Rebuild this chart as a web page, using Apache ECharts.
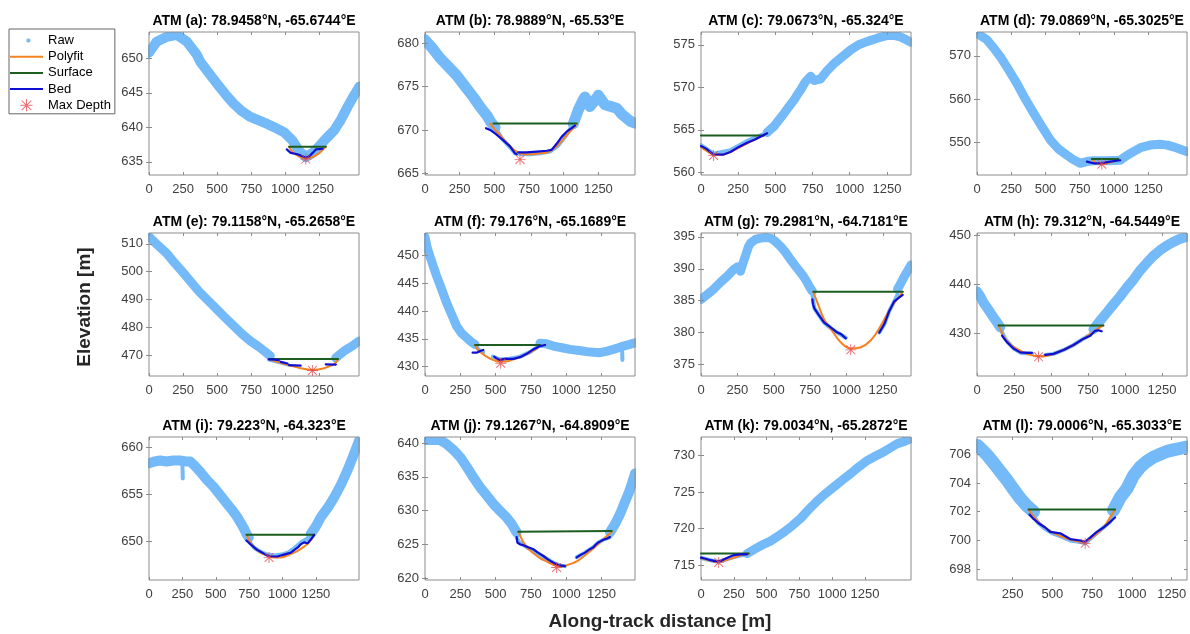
<!DOCTYPE html>
<html>
<head>
<meta charset="utf-8">
<title>ATM along-track elevation profiles</title>
<script src="https://cdn.jsdelivr.net/npm/echarts@6.0.0/dist/echarts.min.js"></script>
<style>
  html, body { margin: 0; padding: 0; background: #fff; }
  #chart { width: 1190px; height: 634px; }
</style>
</head>
<body>
<div id="chart"></div>
<script>
// ---------- data ----------
const titles = [
  'ATM (a): 78.9458°N, -65.6744°E', 'ATM (b): 78.9889°N, -65.53°E',
  'ATM (c): 79.0673°N, -65.324°E', 'ATM (d): 79.0869°N, -65.3025°E',
  'ATM (e): 79.1158°N, -65.2658°E', 'ATM (f): 79.176°N, -65.1689°E',
  'ATM (g): 79.2981°N, -64.7181°E', 'ATM (h): 79.312°N, -64.5449°E',
  'ATM (i): 79.223°N, -64.323°E', 'ATM (j): 79.1267°N, -64.8909°E',
  'ATM (k): 79.0034°N, -65.2872°E', 'ATM (l): 79.0006°N, -65.3033°E'
]
const xMin = [0, 0, 0, 0, 0, 0, 0, 0, 0, 0, 0, 26]
const xMax = [1540, 1514, 1412, 1533, 1541, 1487, 1443, 1419, 1573, 1487, 1600, 1346]
const yMin = [633.1, 664.8, 559.7, 542.5, 462.5, 428.3, 373.2, 421.3, 645.9, 619.75, 713.0, 697.25]
const yMax = [653.8, 681.3, 576.5, 575.5, 513.9, 454.1, 395.6, 450.4, 661.1, 640.9, 732.5, 707.2]
const xTicks = [0, 250, 500, 750, 1000, 1250]
const xTicksL = [250, 500, 750, 1000, 1250]
const yTicks = [
  [635, 640, 645, 650], [665, 670, 675, 680], [560, 565, 570, 575], [550, 560, 570],
  [470, 480, 490, 500, 510], [430, 435, 440, 445, 450], [375, 380, 385, 390, 395], [430, 440, 450],
  [650, 655, 660], [620, 625, 630, 635, 640], [715, 720, 725, 730], [698, 700, 702, 704, 706]
]

// (a)
const bandA = [[[0,650.8],[56,652.4],[130,653.1],[204,653.4],[278,652.4],[351,650.5],[376,649.5],[437,647.9],[499,646.3],[560,644.8],[622,643.4],[683,642.3],[744,641.5],[805,641.0],[867,640.5],[930,639.9],[990,639.3],[1052,638.1],[1100,636.6],[1150,635.7],[1200,636.3],[1250,637.3],[1285,638.1],[1320,638.8],[1359,639.6],[1410,641.2],[1457,643.0],[1500,644.5],[1543,645.9]]]
const troughA = []
const polyA = [[1027,637.2],[1060,636.3],[1100,635.8],[1150,635.5],[1200,635.7],[1250,636.3],[1297,637.2]]
const surfA = [[1027,637.2],[1297,637.2]]
const bedA = [[[1010,636.8],[1039,636.3],[1088,636.1],[1125,635.8],[1150,635.6],[1174,635.8],[1200,636.3],[1224,636.8],[1273,636.9]]]
const maxA = [1150, 635.4]

// (b)
const bandB = [
  [[0,680.4],[50,679.5],[108,678.3],[168,677.3],[228,676.3],[290,675.0],[348,673.8],[400,672.6],[445,671.7],[475,670.9],[505,670.3]],
  [[1069,670.7],[1105,672.3],[1135,673.3],[1153,673.8],[1170,673.4],[1189,672.7],[1220,673.3],[1250,674.0],[1275,673.4],[1298,672.9],[1340,672.7],[1382,672.5],[1420,671.8],[1442,671.5],[1480,671.0],[1514,670.8]]
]
const troughB = [[[505,670.3],[560,668.9],[613,668.0],[650,667.3],[700,667.2],[757,667.2],[830,667.3],[900,667.5],[960,668.2],[1010,669.2],[1069,670.7]]]
const polyB = [[469,670.75],[505,670.0],[541,669.4],[577,668.7],[613,668.1],[650,667.6],[685,667.3],[733,667.2],[781,667.2],[829,667.3],[877,667.4],[913,667.7],[949,668.1],[985,668.7],[1021,669.4],[1057,670.0],[1093,670.7]]
const surfB = [[493,670.75],[1093,670.75]]
const bedB = [
  [[440,670.2],[469,670.0],[505,669.6],[565,668.8],[613,668.1],[649,667.3],[661,667.2]],
  [[673,667.4],[733,667.4],[805,667.5],[877,667.6],[913,667.7],[949,668.4],[985,669.2],[1021,669.8],[1057,670.2],[1081,670.5]]
]
const maxB = [685, 666.6]

// (c)
const bandC = [[[445,564.7],[470,565.1],[490,565.4],[525,566.2],[557,566.9],[590,567.7],[625,568.5],[650,569.2],[670,569.7],[700,570.6],[737,571.3],[760,570.8],[785,570.9],[805,571.0],[850,572.0],[895,572.8],[950,573.6],[1007,574.4],[1060,575.0],[1120,575.4],[1190,575.8],[1255,576.1],[1300,576.1],[1344,575.9],[1380,575.6],[1412,575.3]]]
const troughC = [[[0,563.2],[85,562.2],[198,562.6],[310,563.7],[422,564.5],[455,565.0]]]
const polyC = [[0,563.0],[40,562.5],[85,562.1],[140,562.1],[198,562.4],[254,562.9],[310,563.4],[366,563.9],[422,564.35]]
const surfC = [[0,564.35],[422,564.35]]
const bedC = [[[0,563.1],[34,562.8],[85,562.1],[152,562.1],[198,562.4],[254,563.0],[310,563.5],[366,563.9],[445,564.6]]]
const maxC = [85, 562.0]

// (d)
const bandD = [[[0,575.2],[73,573.7],[120,571.9],[170,569.8],[230,566.8],[292,563.6],[350,560.2],[413,556.8],[475,553.6],[535,550.6],[595,548.5],[656,547.1],[700,546.1],[753,545.2],[800,545.6],[850,545.8],[950,545.8],[1045,545.9],[1090,546.9],[1142,547.9],[1200,548.9],[1263,549.4],[1336,549.6],[1390,549.4],[1433,549.0],[1480,548.5],[1531,547.9]]]
const troughD = []
const polyD = [[838,546.2],[870,545.3],[911,545.0],[960,545.3],[1000,545.7],[1032,546.2]]
const surfD = [[838,546.2],[1032,546.2]]
const bedD = [[[802,545.6],[850,545.2],[899,545.2],[972,545.6],[1045,545.9]]]
const maxD = [911, 545.0]

// (e)
const bandE = [
  [[0,512.6],[60,509.7],[130,506.6],[190,503.0],[253,499.5],[315,495.9],[376,492.4],[438,489.4],[499,486.4],[560,483.4],[622,480.5],[683,477.6],[744,475.1],[805,473.0],[850,471.3],[890,469.7]],
  [[1370,469.0],[1400,470.2],[1432,471.5],[1490,473.2],[1543,475.1]]
]
const troughE = [[[880,468.4],[960,467.4],[1020,466.6]]]
const polyE = [[879,468.6],[960,467.3],[1039,466.2],[1113,465.3],[1199,464.7],[1285,465.3],[1359,466.8],[1388,468.6]]
const surfE = [[879,468.6],[1388,468.6]]
const bedE = [
  [[879,468.5],[920,468.4],[953,468.2]],
  [[966,467.6],[1015,467.0]],
  [[1027,466.4],[1070,466.3],[1113,466.2]],
  [[1297,466.7],[1371,466.6]]
]
const maxE = [1199, 464.5]

// (f)
const bandF = [
  [[0,453.4],[15,451.5],[35,449.9],[60,448.0],[83,446.3],[120,443.8],[153,441.5],[190,439.3],[224,437.3],[260,436.0],[295,435.2],[325,434.5],[354,434.0]],
  [[814,434.2],[860,434.1],[909,433.7],[970,433.4],[1027,433.1],[1090,432.9],[1145,432.7],[1190,432.6],[1239,432.5],[1290,432.8],[1333,433.1],[1370,433.4],[1404,433.7],[1450,434.0],[1487,434.3]]
]
const troughF = [
  [[354,434.0],[380,433.0],[413,432.6]],
  [[480,431.8],[530,431.3],[600,431.4],[673,431.8],[743,432.6],[790,433.4],[814,434.0]],
  [[1395,433.6],[1398,431.2]]
]
const polyF = [[354,433.9],[380,432.9],[413,432.2],[442,431.7],[472,431.3],[502,431.0],[531,430.9],[566,430.9],[602,431.1],[640,431.4],[673,431.7],[710,432.1],[743,432.5],[780,433.1],[814,433.7]]
const surfF = [[354,433.9],[814,433.9]]
const bedF = [
  [[337,432.5],[366,432.5],[390,432.8],[413,433.0]],
  [[490,431.8],[510,431.4],[531,431.2],[566,431.4],[600,431.4],[625,431.4],[673,431.7],[720,432.3],[767,433.1],[814,433.7],[850,433.9]]
]
const maxF = [536, 430.6]

// (g)
const bandG = [
  [[0,385.2],[45,386.0],[87,386.8],[135,387.9],[179,388.8],[225,389.9],[250,390.3],[271,389.6],[290,391.0],[305,392.0],[325,393.4],[340,394.0],[375,394.6],[409,394.8],[445,394.9],[478,394.8],[510,394.3],[547,393.5],[580,392.6],[616,391.4],[650,390.4],[684,389.4],[710,388.6],[731,387.8],[750,387.0],[765,386.5]],
  [[1351,386.8],[1374,387.8],[1397,388.8],[1420,389.7],[1443,390.6]]
]
const troughG = [
  [[765,386.0],[779,383.8],[811,382.7],[845,381.6],[891,380.7],[937,380.0],[995,379.2]],
  [[1225,380.0],[1259,381.3],[1294,383.4],[1328,384.9],[1351,386.0]]
]
const polyG = [[772,386.4],[800,384.7],[845,382.1],[891,380.6],[960,378.5],[1029,377.5],[1098,377.7],[1167,378.8],[1236,381.1],[1305,383.9],[1374,386.0],[1386,386.4]]
const surfG = [[772,386.4],[1386,386.4]]
const bedG = [
  [[765,385.2],[770,384.4],[779,383.8],[811,382.7],[845,381.6],[891,380.8],[937,380.0],[960,379.8],[995,379.1]],
  [[1225,380.0],[1259,381.3],[1294,383.4],[1328,384.9],[1363,385.5],[1386,385.9]]
]
const maxG = [1029, 377.3]

// (h)
const bandH = [
  [[0,438.5],[20,437.6],[45,436.2],[68,435.2],[90,434.2],[112,433.2],[135,432.2],[157,431.2]],
  [[787,430.8],[830,432.5],[877,434.2],[920,435.8],[967,437.5],[1010,439.2],[1057,440.9],[1100,442.7],[1147,444.3],[1190,445.7],[1237,446.9],[1280,447.8],[1327,448.6],[1370,449.2],[1419,449.6]]
]
const troughH = [
  [[157,431.0],[191,428.8],[247,426.9],[300,426.0],[371,425.9]],
  [[461,425.6],[517,425.8],[585,426.6],[652,427.6],[720,428.9],[765,429.7],[787,430.5]]
]
const polyH = [[146,431.6],[170,430.0],[191,428.8],[230,427.6],[270,426.8],[315,426.1],[360,425.6],[395,425.4],[427,425.3],[470,425.4],[517,425.8],[560,426.3],[607,426.9],[650,427.6],[697,428.4],[740,429.3],[787,430.3],[820,431.0],[854,431.6]]
const surfH = [[146,431.6],[854,431.6]]
const bedH = [
  [[169,429.5],[202,428.2],[247,426.9],[292,426.1],[337,426.0],[371,426.0]],
  [[461,425.6],[517,425.8],[585,426.6],[652,427.6],[720,428.9],[765,429.5],[798,430.5],[820,430.6],[843,430.4]]
]
const maxH = [416, 425.2]

// (i)
const bandI = [
  [[0,658.3],[40,658.5],[83,658.6],[130,658.5],[183,658.6],[230,658.6],[280,658.5],[309,658.5],[345,658.0],[384,657.4],[430,656.6],[484,655.8],[535,654.9],[585,654.0],[625,653.3],[660,652.6],[690,651.9],[710,651.4],[730,650.8],[747,650.4]],
  [[1212,650.8],[1250,651.6],[1288,652.6],[1340,653.6],[1388,654.7],[1440,656.1],[1488,657.6],[1530,659.1],[1576,660.8]]
]
const troughI = [
  [[747,650.0],[790,649.3],[835,648.9],[886,648.6],[940,648.5],[990,648.6],[1040,648.8],[1090,649.3],[1137,649.9],[1175,650.2],[1212,650.6]],
  [[250,658.4],[253,656.7]]
]
const polyI = [[730,650.7],[760,649.9],[785,649.4],[836,648.8],[886,648.5],[936,648.3],[986,648.3],[1037,648.5],[1087,648.8],[1137,649.2],[1175,649.6],[1200,649.9],[1220,650.3],[1237,650.7]]
const surfI = [[730,650.7],[1237,650.7]]
const bedI = [[[730,650.1],[760,649.7],[785,649.4],[810,649.1],[836,648.9],[861,648.7],[886,648.5],[911,648.4],[936,648.4],[961,648.4],[986,648.5],[1012,648.6],[1037,648.7],[1062,648.8],[1080,649.0],[1099,649.2],[1118,649.4],[1137,649.7],[1150,649.8],[1162,649.9],[1175,649.8],[1187,649.8],[1200,650.0],[1212,650.2],[1237,650.7]]]
const maxI = [899, 648.3]

// (j)
const bandJ = [
  [[0,640.45],[50,640.5],[106,640.45],[150,639.9],[201,639.0],[250,637.9],[295,636.5],[340,635.0],[389,633.5],[435,632.3],[484,631.0],[530,630.0],[578,629.0],[615,628.0],[649,626.8]],
  [[1310,626.8],[1345,628.0],[1381,629.5],[1410,631.0],[1440,632.5],[1465,634.0],[1487,635.5]]
]
const troughJ = [
  [[649,626.0],[670,625.3],[720,624.6],[767,624.1],[838,623.2],[909,622.3],[956,621.9],[991,621.8]],
  [[1074,623.1],[1133,623.8],[1192,624.6],[1227,625.3],[1263,625.7],[1310,626.1]]
]
const polyJ = [[661,626.9],[690,625.6],[720,624.6],[767,623.7],[814,623.0],[860,622.5],[909,622.0],[945,621.8],[979,621.8],[1027,622.1],[1074,622.5],[1120,623.2],[1168,624.0],[1205,624.7],[1239,625.3],[1280,626.1],[1322,626.9]]
const surfJ = [[661,626.9],[1322,627.0]]
const bedJ = [
  [[649,626.1],[654,625.3],[675,625.0],[696,624.9],[730,624.6],[767,624.3],[800,623.8],[838,623.3],[870,622.8],[909,622.3],[940,622.0],[956,621.9],[991,621.8]],
  [[1074,623.1],[1105,623.5],[1133,623.8],[1160,624.2],[1192,624.6],[1210,625.0],[1227,625.3],[1245,625.5],[1263,625.7],[1290,625.9],[1310,626.1]]
]
const maxJ = [932, 621.6]

// (k)
const bandK = [[[351,716.6],[390,717.0],[428,717.4],[480,717.9],[529,718.3],[580,718.9],[631,719.5],[695,720.4],[759,721.4],[820,722.6],[886,723.8],[950,724.8],[1013,725.7],[1075,726.6],[1140,727.5],[1200,728.4],[1268,729.3],[1330,729.9],[1395,730.5],[1450,731.1],[1497,731.6],[1550,731.9],[1599,732.3]]]
const troughK = [[[0,716.0],[50,715.8],[96,715.6],[135,715.5],[173,715.7],[224,716.0],[290,716.3],[351,716.5]]]
const polyK = [[0,716.0],[60,715.7],[122,715.5],[190,715.7],[260,716.1],[330,716.5],[364,716.6]]
const surfK = [[0,716.6],[364,716.6]]
const bedK = [[[0,716.05],[35,715.9],[71,715.7],[100,715.6],[122,715.5],[150,715.6],[173,715.8],[210,716.1],[250,716.4],[300,716.5],[351,716.5]]]
const maxK = [135, 715.4]

// (l)
const bandL = [
  [[30,706.6],[89,705.96],[130,705.4],[172,704.8],[215,704.2],[256,703.55],[300,702.9],[340,702.4],[381,702.0]],
  [[884,702.1],[926,703.0],[968,703.6],[1009,704.5],[1051,705.1],[1093,705.5],[1135,705.8],[1177,706.0],[1220,706.2],[1260,706.3],[1300,706.4],[1344,706.5]]
]
const troughL = [[[381,701.7],[413,701.2],[455,700.8],[500,700.5],[549,700.3],[612,700.0],[675,699.9],[706,699.8],[737,700.1],[779,700.5],[821,700.9],[863,701.3],[884,701.7]]]
const polyL = [[350,702.15],[402,701.4],[465,700.8],[549,700.3],[633,700.0],[696,699.9],[758,700.3],[821,700.9],[873,701.8],[894,702.15]]
const surfL = [[350,702.15],[894,702.15]]
const bedL = [[[356,701.8],[381,701.5],[413,701.2],[455,700.9],[486,700.6],[549,700.5],[612,700.1],[675,700.0],[706,699.9],[737,700.2],[779,700.6],[821,700.9],[863,701.3],[894,701.6]]]
const maxL = [706, 699.8]

const panels = [
  { band: bandA, trough: troughA, poly: polyA, surf: surfA, bed: bedA, maxd: maxA },
  { band: bandB, trough: troughB, poly: polyB, surf: surfB, bed: bedB, maxd: maxB },
  { band: bandC, trough: troughC, poly: polyC, surf: surfC, bed: bedC, maxd: maxC },
  { band: bandD, trough: troughD, poly: polyD, surf: surfD, bed: bedD, maxd: maxD },
  { band: bandE, trough: troughE, poly: polyE, surf: surfE, bed: bedE, maxd: maxE },
  { band: bandF, trough: troughF, poly: polyF, surf: surfF, bed: bedF, maxd: maxF },
  { band: bandG, trough: troughG, poly: polyG, surf: surfG, bed: bedG, maxd: maxG },
  { band: bandH, trough: troughH, poly: polyH, surf: surfH, bed: bedH, maxd: maxH },
  { band: bandI, trough: troughI, poly: polyI, surf: surfI, bed: bedI, maxd: maxI },
  { band: bandJ, trough: troughJ, poly: polyJ, surf: surfJ, bed: bedJ, maxd: maxJ },
  { band: bandK, trough: troughK, poly: polyK, surf: surfK, bed: bedK, maxd: maxK },
  { band: bandL, trough: troughL, poly: polyL, surf: surfL, bed: bedL, maxd: maxL }
]

// ---------- layout / style ----------
const FONT = '"Liberation Sans", Arial, Helvetica, sans-serif'
const C_RAW = '#74b9f8'
const C_POLY = '#f5821f'
const C_SURF = '#1b5e20'
const C_BED = '#0f0fd2'
const C_MAX = '#e5474f'
const C_AXIS = '#8c8c8c'

const colLeft = [149, 425, 701, 977]
const rowTop = [32, 233, 437]
const plotW = 210
const plotH = 143
const bandWidth = [10, 11, 9, 9, 9, 9, 9, 10, 10, 10, 9, 13]
const troughWidth = 4

// MATLAB-like '*' marker
const STAR = 'path://M9.2,0L10.8,0L10.8,20L9.2,20Z M0,9.2L20,9.2L20,10.8L0,10.8Z M1.4,2.6L2.6,1.4L18.6,17.4L17.4,18.6Z M17.4,1.4L18.6,2.6L2.6,18.6L1.4,17.4Z'
const DOT = 'path://M0,0L0.01,0Z M33,12L33.01,12Z M16.4,5.1L17.6,3.9L19.2,3.9L20.4,5.1L20.4,6.9L19.2,8.1L17.6,8.1L16.4,6.9Z'
const BAR = 'path://M0,0L33,0L33,2L0,2Z'

const lineSeries = (name, data, k, color, width, z, smooth) => ({
  name,
  type: 'line',
  xAxisIndex: 2 * k,
  yAxisIndex: 2 * k,
  data,
  symbol: 'none',
  smooth,
  z,
  silent: true,
  lineStyle: { color, width, cap: 'round', join: 'round' },
  itemStyle: { color }
})

// raw points drawn as thick polylines; width is set per item so the grid
// clip is not widened by the stroke (the raw band is cut at the axes box)
const rawSeries = (segs, k, width) => ({
  name: 'Raw',
  type: 'lines',
  coordinateSystem: 'cartesian2d',
  xAxisIndex: 2 * k,
  yAxisIndex: 2 * k,
  polyline: true,
  clip: true,
  silent: true,
  z: 1,
  lineStyle: { color: C_RAW, width: 0.1, opacity: 1 },
  data: segs.map(seg => ({
    coords: seg,
    lineStyle: { color: C_RAW, width, opacity: 1, cap: 'round', join: 'round' }
  }))
})

const grid = []
const xAxis = []
const yAxis = []
const series = []
const title = []

panels.forEach((p, i) => {
  const col = i % 4
  const row = Math.floor(i / 4)
  // box drawn above the raw band, like the axes box in the figure
  grid.push({
    left: colLeft[col], top: rowTop[row], width: plotW, height: plotH, z: 3,
    show: true, borderColor: C_AXIS, borderWidth: 1, backgroundColor: 'transparent'
  })
  title.push({
    text: titles[i],
    left: colLeft[col] + plotW / 2,
    top: rowTop[row] - 18,
    textAlign: 'center',
    padding: 0,
    textStyle: { fontSize: 14, fontWeight: 'bold', color: '#000', fontFamily: FONT }
  })

  const xt = i === 11 ? xTicksL : xTicks
  const tick = { show: true, inside: true, length: 3, lineStyle: { color: C_AXIS } }
  xAxis.push({
    type: 'value', gridIndex: i, position: 'bottom', min: xMin[i], max: xMax[i], z: 3,
    axisLine: { show: false }, splitLine: { show: false },
    axisTick: { ...tick, customValues: xt },
    axisLabel: { customValues: xt, fontSize: 13, color: '#404040', fontFamily: FONT, margin: 8, formatter: v => String(v) }
  })
  xAxis.push({
    type: 'value', gridIndex: i, position: 'top', min: xMin[i], max: xMax[i], z: 3,
    axisLine: { show: false }, splitLine: { show: false },
    axisTick: { ...tick, customValues: xt }, axisLabel: { show: false }
  })
  yAxis.push({
    type: 'value', gridIndex: i, position: 'left', min: yMin[i], max: yMax[i], z: 3,
    axisLine: { show: false }, splitLine: { show: false },
    axisTick: { ...tick, customValues: yTicks[i] },
    axisLabel: { customValues: yTicks[i], fontSize: 13, color: '#404040', fontFamily: FONT, margin: 6, formatter: v => String(v) }
  })
  yAxis.push({
    type: 'value', gridIndex: i, position: 'right', min: yMin[i], max: yMax[i], z: 3,
    axisLine: { show: false }, splitLine: { show: false },
    axisTick: { ...tick, customValues: yTicks[i] }, axisLabel: { show: false }
  })

  series.push(rawSeries(p.band, i, bandWidth[i]))
  if (p.trough.length) series.push(rawSeries(p.trough, i, troughWidth))
  series.push(lineSeries('Polyfit', p.poly, i, C_POLY, 2, 2, 0.4))
  series.push(lineSeries('Surface', p.surf, i, C_SURF, 2, 4, false))
  p.bed.forEach(seg => series.push(lineSeries('Bed', seg, i, C_BED, 2.2, 4, false)))
  series.push({
    name: 'Max Depth', type: 'scatter', xAxisIndex: 2 * i, yAxisIndex: 2 * i,
    data: [p.maxd], symbol: STAR, symbolSize: 11, z: 5, silent: true,
    itemStyle: { color: C_MAX }
  })
})

const option = {
  animation: false,
  backgroundColor: '#fff',
  title,
  grid,
  xAxis,
  yAxis,
  series,
  legend: {
    left: 9, top: 29, orient: 'vertical',
    itemWidth: 33, itemHeight: 12, itemGap: 3.2,
    padding: [5, 4, 2, 1],
    borderColor: '#666', borderWidth: 1, backgroundColor: '#fff',
    selectedMode: false,
    itemStyle: { borderWidth: 0 },
    textStyle: { fontSize: 13, color: '#000', fontFamily: FONT },
    data: [
      { name: 'Raw', icon: DOT, itemStyle: { color: C_RAW } },
      { name: 'Polyfit', icon: BAR, itemStyle: { color: C_POLY } },
      { name: 'Surface', icon: BAR, itemStyle: { color: C_SURF } },
      { name: 'Bed', icon: BAR, itemStyle: { color: C_BED } },
      { name: 'Max Depth', icon: STAR, itemStyle: { color: C_MAX } }
    ]
  },
  graphic: [
    {
      type: 'text', x: 660, y: 622,
      style: { text: 'Along-track distance [m]', font: 'bold 19px ' + FONT, fill: '#262626', align: 'center', verticalAlign: 'middle' }
    },
    {
      type: 'text', x: 85, y: 307, rotation: Math.PI / 2,
      style: { text: 'Elevation [m]', font: 'bold 19px ' + FONT, fill: '#262626', align: 'center', verticalAlign: 'middle' }
    }
  ]
}

const chart = echarts.init(document.getElementById('chart'), null, { renderer: 'canvas' })
chart.setOption(option)
window.addEventListener('resize', () => chart.resize())
</script>
</body>
</html>
